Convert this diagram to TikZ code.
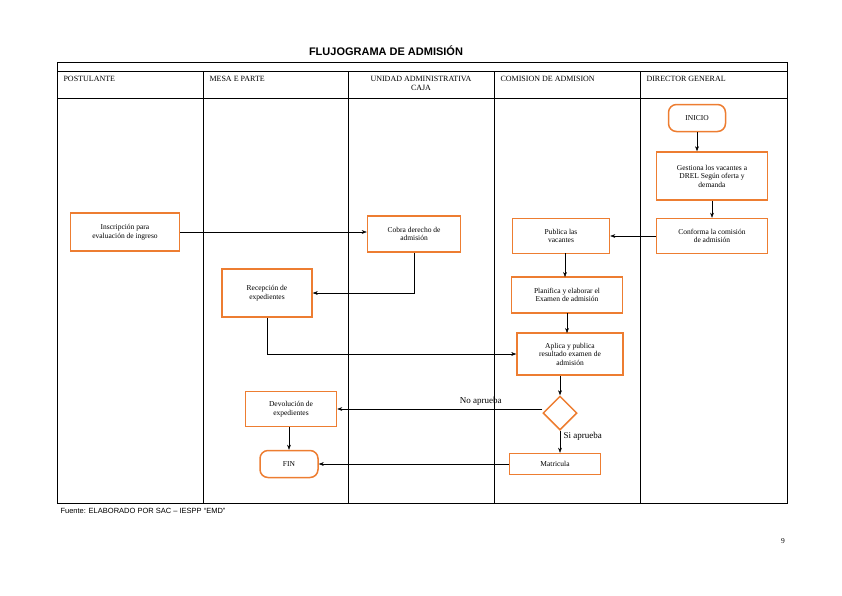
\documentclass[tikz,border=0pt]{standalone}
\usepackage{fontspec}
\setmainfont{Liberation Serif}
\newfontfamily\sansf{Liberation Sans}
\usetikzlibrary{shapes.geometric,arrows.meta}
\definecolor{boxorange}{RGB}{237,125,49}
\tikzset{
  proc/.style={draw=boxorange,line width=1.5pt,align=center,font=\fontsize{7.5}{8.5}\selectfont,inner sep=1pt},
  term/.style={proc,rounded corners=8pt},
  flow/.style={-{Stealth[length=5pt]},thin,black},
  lane/.style={font=\fontsize{8}{9}\selectfont,anchor=north west}
}
\begin{document}
\begin{tikzpicture}[x=1pt,y=-1pt]
	\useasboundingbox (0,0) rectangle (842,595);
	
	% Title
	\node[font=\sansf\bfseries\fontsize{11}{13}\selectfont] (title) at (386,51) {FLUJOGRAMA DE ADMISIÓN};
	
	% Lanes
	\draw[thin] (57,62) rectangle (787,503);
	\draw[thin] (57,71) -- (787,71);
	\draw[thin] (57,98) -- (787,98);
	\foreach \x in {203,348,494,640} \draw[thin] (\x,71) -- (\x,503);
	\node[lane] (l1) at (60,73) {POSTULANTE};
	\node[lane] (l2) at (206,73) {MESA E PARTE};
	\node[lane,align=center,anchor=north] (l3) at (421,73) {UNIDAD ADMINISTRATIVA\\CAJA};
	\node[lane] (l4) at (497,73) {COMISION DE ADMISION};
	\node[lane] (l5) at (643,73) {DIRECTOR GENERAL};
	
	% Nodes
	\node[term,minimum width=57pt,minimum height=27pt] (inicio) at (697,118) {INICIO};
	\node[proc,minimum width=111pt,minimum height=48pt] (gest) at (712,176) {Gestiona los vacantes a\\DREL Según oferta y\\demanda};
	\node[proc,minimum width=111pt,minimum height=35pt] (conf) at (712,236) {Conforma la comisión\\de admisión};
	\node[proc,minimum width=97pt,minimum height=35pt] (pub) at (561,236) {Publica las\\vacantes};
	\node[proc,minimum width=111pt,minimum height=36pt] (plan) at (567,295) {Planifica y elaborar el\\Examen de admisión};
	\node[proc,minimum width=106pt,minimum height=42pt] (apl) at (570,354) {Aplica y publica\\resultado examen de\\admisión};
	\node[diamond,draw=boxorange,line width=1.5pt,minimum size=34pt,inner sep=0pt] (dec) at (560,413) {};
	\node[proc,minimum width=91pt,minimum height=21pt] (mat) at (555,464) {Matricula};
	\node[proc,minimum width=109pt,minimum height=38pt] (insc) at (125,232) {Inscripción para\\evaluación de ingreso};
	\node[proc,minimum width=93pt,minimum height=36pt] (cobra) at (414,234) {Cobra derecho de\\admisión};
	\node[proc,minimum width=90pt,minimum height=48pt] (recep) at (267,293) {Recepción de\\expedientes};
	\node[proc,minimum width=91pt,minimum height=35pt] (devol) at (291,409) {Devolución de\\expedientes};
	\node[term,minimum width=58pt,minimum height=27pt] (fin) at (289,464) {FIN};
	
	% Links
	\draw[flow] (inicio) -- (inicio|-gest.north);
	\draw[flow] (gest.south-|conf) -- (conf);
	\draw[flow] (conf) -- (pub);
	\draw[flow] (565,253) -- (565,277);
	\draw[flow] (567,313) -- (567,333);
	\draw[flow] (apl.south-|dec) -- (dec);
	\draw[flow] (insc.east) -- (cobra.west|-insc.east);
	\draw[flow] (cobra.south) |- (recep.east);
	\draw[flow] (recep.south) |- (apl.west);
	\draw[flow] (dec.west|-devol.east) -- (devol.east) node[pos=0.3,above,font=\fontsize{9}{10}\selectfont] {No aprueba};
	\draw[flow] (dec.south) -- (mat.north-|dec) node[pos=0.25,right,font=\fontsize{9}{10}\selectfont] {Si aprueba};
	\draw[flow] (mat) -- (fin);
	\draw[flow] (devol.south-|fin) -- (fin);
	
	% Footer
	\node[anchor=west,font=\sansf\fontsize{7.5}{8.5}\selectfont] (src) at (57,511) {Fuente: ELABORADO POR SAC – IESPP “EMD”};
	\node[font=\fontsize{7.5}{8.5}\selectfont] (pg) at (783,541) {9};
\end{tikzpicture}
\end{document}
